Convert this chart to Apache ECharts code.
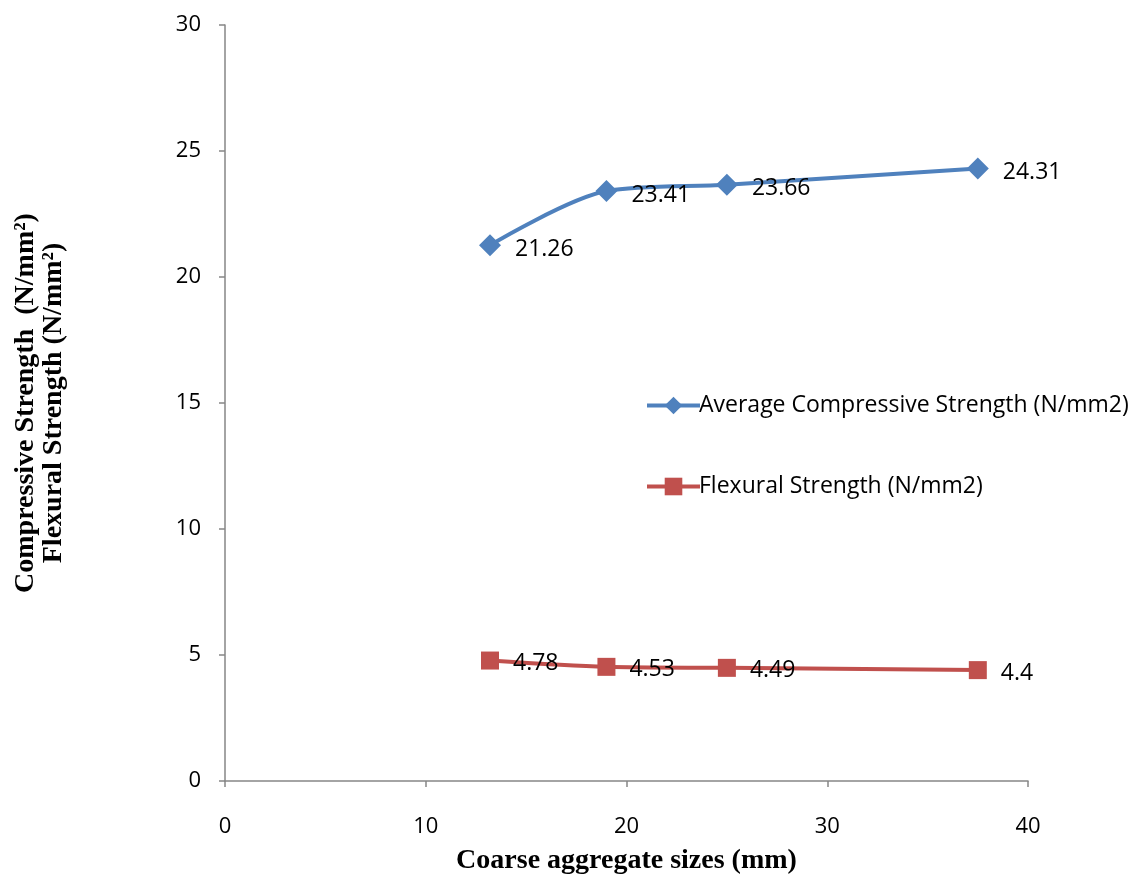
<!DOCTYPE html>
<html>
<head>
<meta charset="utf-8">
<script src="https://cdn.jsdelivr.net/npm/echarts@6/dist/echarts.min.js"></script>
<style>
  html, body { margin: 0; padding: 0; background: #fff; }
  #echart { width: 1145px; height: 875px; }
</style>
</head>
<body>
<div id="echart"></div>
<script>
// aggregate sizes (mm)
var sizes = [13.2, 19, 25, 37.5];
var compressive = [21.26, 23.41, 23.66, 24.31];
var flexural = [4.78, 4.53, 4.49, 4.4];
var titles = ['Average Compressive Strength (N/mm2)', 'Flexural Strength (N/mm2)'];

function pairs(xs, ys) {
  return xs.map(function (x, i) { return [x, ys[i]]; });
}

var myChart = echarts.init(document.getElementById('echart'));

var axisColor = '#868686';
var labelFont = '"Open Sans", "Noto Sans", sans-serif';
var serifFont = '"Liberation Serif", "Times New Roman", serif';

var option = {
  animation: false,
  grid: { left: 225, right: 117, top: 25, bottom: 94, containLabel: false, outerBoundsMode: 'none' },
  legend: {
    orient: 'vertical',
    left: 640,
    top: 389,
    itemWidth: 53,
    itemHeight: 22,
    itemGap: 58,
    lineStyle: { width: 4 },
    textStyle: { fontFamily: labelFont, fontSize: 23, color: '#000', padding: [0, 0, 0, -6] },
    data: titles
  },
  xAxis: {
    type: 'value',
    min: 0, max: 40, interval: 10,
    name: 'Coarse aggregate sizes (mm)',
    nameLocation: 'middle',
    nameGap: 66,
    nameTextStyle: { fontFamily: serifFont, fontWeight: 'bold', fontSize: 28, color: '#000' },
    axisLine: { lineStyle: { color: axisColor, width: 1.5 } },
    axisTick: { show: true, length: 6, lineStyle: { color: axisColor, width: 1.5 } },
    axisLabel: { margin: 35, fontFamily: labelFont, fontSize: 22, color: '#000' },
    splitLine: { show: false }
  },
  yAxis: {
    type: 'value',
    min: 0, max: 30, interval: 5,
    name: 'Compressive Strength  (N/mm²)\nFlexural Strength (N/mm²)',
    nameLocation: 'middle',
    nameGap: 157,
    nameTextStyle: { fontFamily: serifFont, fontWeight: 'bold', fontSize: 28, color: '#000', lineHeight: 28 },
    axisLine: { show: true, lineStyle: { color: axisColor, width: 1.5 } },
    axisTick: { show: true, length: 6, lineStyle: { color: axisColor, width: 1.5 } },
    axisLabel: { margin: 24, fontFamily: labelFont, fontSize: 22, color: '#000' },
    splitLine: { show: false }
  },
  series: [
    {
      name: titles[0],
      type: 'line',
      data: pairs(sizes, compressive),
      smooth: 0.3,
      symbol: 'diamond',
      symbolSize: 22,
      lineStyle: { color: '#4F81BD', width: 4 },
      itemStyle: { color: '#4F81BD' },
      label: {
        show: true, position: 'right', distance: 14, offset: [0, 4],
        fontFamily: labelFont, fontSize: 23, color: '#000'
      }
    },
    {
      name: titles[1],
      type: 'line',
      data: pairs(sizes, flexural),
      smooth: 0.3,
      symbol: 'rect',
      symbolSize: 18,
      lineStyle: { color: '#C0504D', width: 4 },
      itemStyle: { color: '#C0504D' },
      label: {
        show: true, position: 'right', distance: 14, offset: [0, 3],
        fontFamily: labelFont, fontSize: 23, color: '#000'
      }
    }
  ]
};

myChart.setOption(option);
</script>
</body>
</html>
